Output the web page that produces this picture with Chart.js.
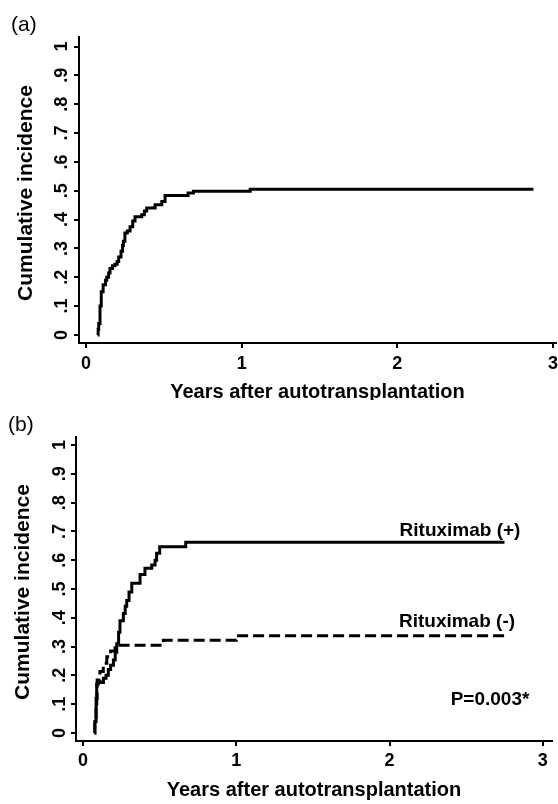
<!DOCTYPE html>
<html>
<head>
<meta charset="utf-8">
<script src="https://cdn.jsdelivr.net/npm/chart.js@4"></script>
<style>
  body { margin: 0; background: #fff; }
  #wrap { position: relative; width: 558px; height: 804px; }
  canvas { position: absolute; left: 0; }
  #chartA { top: 0; }
  #chartB { top: 400px; }
  .panel { position: absolute; font: 21px "Liberation Sans", Arial, sans-serif; color: #000; }
</style>
</head>
<body>
<div id="wrap">
  <canvas id="chartA" width="558" height="400"></canvas>
  <canvas id="chartB" width="558" height="404"></canvas>
  <div class="panel" style="left:11px; top:12px;">(a)</div>
  <div class="panel" style="left:8px; top:412px;">(b)</div>
</div>
<script>
// (a) all patients: cumulative incidence by years after autotransplantation
const allTimes = [0.075, 0.078, 0.082, 0.09, 0.098, 0.11, 0.125, 0.133, 0.145, 0.154, 0.17, 0.186, 0.2, 0.21,
                  0.225, 0.235, 0.24, 0.25, 0.265, 0.283, 0.30, 0.315, 0.358, 0.375, 0.39, 0.444, 0.487, 0.508,
                  0.656, 0.69, 1.055, 2.875];
const allCI = [0, 0.02, 0.04, 0.1, 0.15, 0.174, 0.19, 0.2, 0.215, 0.23, 0.24, 0.245, 0.255, 0.27,
               0.29, 0.31, 0.325, 0.353, 0.36, 0.375, 0.395, 0.41, 0.417, 0.43, 0.44, 0.451, 0.463, 0.483,
               0.492, 0.498, 0.505, 0.505];

// (b) split by rituximab
const posTimes = [0.074, 0.077, 0.085, 0.089, 0.1, 0.133, 0.15, 0.165, 0.18, 0.198, 0.21, 0.22, 0.232, 0.241,
                  0.263, 0.275, 0.285, 0.3, 0.318, 0.372, 0.404, 0.448, 0.47, 0.48, 0.5, 0.67, 2.75];
const posCI = [0, 0.04, 0.1, 0.17, 0.175, 0.19, 0.2, 0.22, 0.235, 0.253, 0.28, 0.31, 0.35, 0.39,
               0.415, 0.44, 0.46, 0.49, 0.52, 0.55, 0.572, 0.583, 0.6, 0.624, 0.647, 0.662, 0.662];
const negTimes = [0.074, 0.077, 0.085, 0.092, 0.11, 0.132, 0.155, 0.18, 0.209, 0.215, 0.524, 1.0, 2.75];
const negCI = [0, 0.04, 0.12, 0.184, 0.213, 0.242, 0.265, 0.285, 0.296, 0.305, 0.322, 0.338, 0.338];

const yTickValues = [0, 0.1, 0.2, 0.3, 0.4, 0.5, 0.6, 0.7, 0.8, 0.9, 1];
const yTickLabels = ['0', '.1', '.2', '.3', '.4', '.5', '.6', '.7', '.8', '.9', '1'];
const xTickValues = [0, 1, 2, 3];
const xTickLabels = ['0', '1', '2', '3'];
const yTitle = 'Cumulative incidence';
const xTitle = 'Years after autotransplantation';

const FONT = '"Liberation Sans", Arial, sans-serif';

function toPoints(xs, ys) {
    return xs.map((x, i) => ({ x: x, y: ys[i] }));
}

// draws stata-style labels (rotated y ticks, titles, notes)
const stataText = {
    id: 'stataText',
    afterDraw(chart, args, opts) {
        const ctx = chart.ctx;
        const xs = chart.scales.x;
        const ys = chart.scales.y;
        ctx.save();
        ctx.fillStyle = '#000';
        ctx.textAlign = 'center';
        ctx.textBaseline = 'middle';
        ctx.font = 'bold 18px ' + FONT;
        yTickValues.forEach((v, i) => {
            ctx.save();
            ctx.translate(opts.yLabelX, ys.getPixelForValue(v));
            ctx.rotate(-Math.PI / 2);
            ctx.fillText(yTickLabels[i], 0, 1);
            ctx.restore();
        });
        xTickValues.forEach((v, i) => {
            ctx.fillText(xTickLabels[i], xs.getPixelForValue(v), opts.xLabelY);
        });

        ctx.font = 'bold 21px ' + FONT;
        ctx.save();
        ctx.translate(opts.yTitleX, opts.yTitleY);
        ctx.rotate(-Math.PI / 2);
        ctx.fillText(yTitle, 0, 0);
        ctx.restore();

        ctx.font = 'bold 20px ' + FONT;
        ctx.fillText(xTitle, (xs.left + xs.right) / 2, opts.xTitleY);

        ctx.font = 'bold 19px ' + FONT;
        (opts.notes || []).forEach(n => ctx.fillText(n.text, n.x, n.y));
        ctx.restore();
    }
};

function axis(min, max, tickVals, fitSize, horizontal) {
    return {
        type: 'linear',
        min: min,
        max: max,
        afterBuildTicks: s => { s.ticks = tickVals.map(v => ({ value: v })); },
        afterFit: s => { if (horizontal) s.height = fitSize; else s.width = fitSize; },
        ticks: { display: false },
        grid: { drawOnChartArea: false, drawTicks: true, tickLength: 5, color: '#000', lineWidth: 2 },
        border: { display: true, color: '#000', width: 2 }
    };
}

function lineSet(points, dashed) {
    return {
        data: points,
        borderColor: '#000',
        borderWidth: 3,
        borderDash: dashed ? [11, 5] : [],
        stepped: true,
        pointRadius: 0,
        fill: false
    };
}

function makeChart(id, datasets, cfg) {
    return new Chart(document.getElementById(id), {
        type: 'line',
        data: { datasets: datasets },
        options: {
            responsive: false,
            animation: false,
            layout: { padding: { top: cfg.top, right: cfg.right, bottom: 0, left: 0 } },
            scales: {
                x: axis(cfg.xMin, cfg.xMax, xTickValues, cfg.xAxisH, true),
                y: axis(cfg.yMin, cfg.yMax, yTickValues, cfg.yAxisW, false)
            },
            plugins: {
                legend: { display: false },
                tooltip: { enabled: false },
                stataText: cfg.text
            }
        },
        plugins: [stataText]
    });
}

makeChart('chartA', [lineSet(toPoints(allTimes, allCI), false)], {
    top: 37, right: 2, xAxisH: 57, yAxisW: 79,
    xMin: -0.045, xMax: 3.02, yMin: -0.028, yMax: 1.033,
    text: { yLabelX: 61, xLabelY: 364, yTitleX: 26, yTitleY: 193, xTitleY: 392 }
});

makeChart('chartB', [
    lineSet(toPoints(posTimes, posCI), false),
    lineSet(toPoints(negTimes, negCI), true)
], {
    top: 37, right: 6, xAxisH: 63, yAxisW: 76,
    xMin: -0.046, xMax: 3.06, yMin: -0.028, yMax: 1.028,
    text: {
        yLabelX: 59, xLabelY: 361, yTitleX: 23, yTitleY: 192, xTitleY: 390,
        notes: [
            { text: 'Rituximab (+)', x: 460, y: 131 },
            { text: 'Rituximab (-)', x: 457, y: 222 },
            { text: 'P=0.003*', x: 490, y: 300 }
        ]
    }
});
</script>
</body>
</html>
